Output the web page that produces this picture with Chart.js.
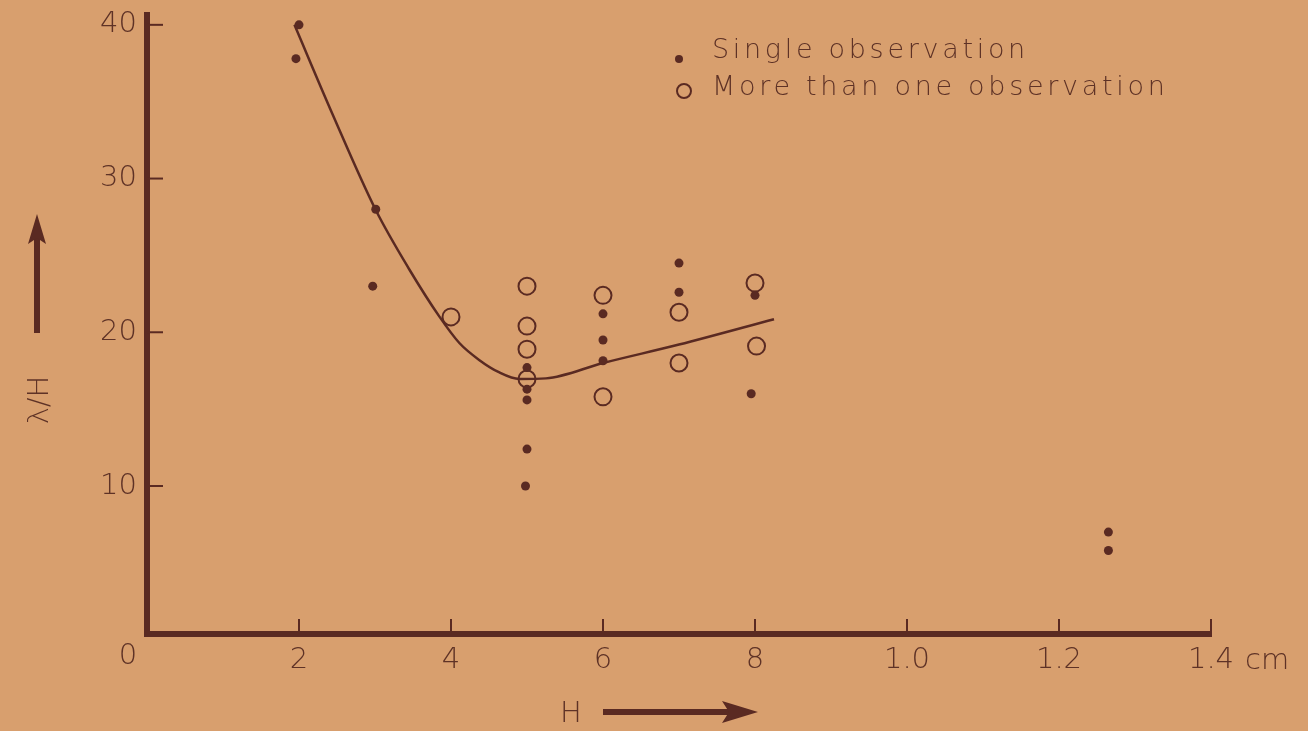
<!DOCTYPE html>
<html>
<head>
<meta charset="utf-8">
<script src="https://cdn.jsdelivr.net/npm/chart.js@4.4.1/dist/chart.umd.min.js"></script>
<style>
  html, body { margin: 0; padding: 0; background: #d89f6e; }
  #wrap { width: 1308px; height: 731px; }
</style>
</head>
<body>
<div id="wrap"><canvas id="waveChart" width="1308" height="731"></canvas></div>
<script>
// 단일 관측 (filled dots)
var singleX = [2, 1.96, 3.01, 2.97, 5, 5, 5, 5, 4.98, 6, 6, 6, 7, 7, 8, 7.95, 12.65, 12.65];
var singleY = [40, 37.8, 28, 23, 17.7, 16.3, 15.6, 12.4, 10, 21.2, 19.5, 18.15, 24.5, 22.6, 22.4, 16, 7.0, 5.8];

// 여러 관측 (open circles)
var multiX = [4, 5, 5, 5, 5, 6, 6, 7, 7, 8, 8.02];
var multiY = [21, 23, 20.4, 18.9, 16.96, 22.4, 15.8, 21.3, 18, 23.2, 19.1];

// 곡선
var curveX = [1.94, 2.44, 3.01, 3.45, 3.85, 4.11, 4.37, 4.63, 4.9, 5.25, 6, 7, 8.25];
var curveY = [40, 34.2, 27.95, 24.1, 21.0, 19.3, 18.2, 17.4, 16.96, 17.0, 18.0, 19.2, 20.85];

var xTicks = [0, 2, 4, 6, 8, 10, 12, 14];
var xTickLabels = ['0', '2', '4', '6', '8', '1.0', '1.2', '1.4'];
var yTicks = [10, 20, 30, 40];
var yTickLabels = ['10', '20', '30', '40'];

var ink = '#5a2a22';
var textInk = '#5e3226';
var fontFamily = "'DejaVu Sans', 'Lato', sans-serif";

function toPoints(xs, ys) {
    return xs.map(function (x, i) { return { x: x, y: ys[i] }; });
}

// 안쪽 눈금, 축 제목, 범례
var decorPlugin = {
    id: 'decor',
    afterDraw: function (chart) {
        var ctx = chart.ctx;
        var xs = chart.scales.x, ys = chart.scales.y;
        var area = chart.chartArea;
        ctx.save();
        ctx.strokeStyle = ink;
        ctx.lineWidth = 2;
        xTicks.forEach(function (v) {
            if (v === 0) return;
            var px = xs.getPixelForValue(v);
            ctx.beginPath();
            ctx.moveTo(px, area.bottom);
            ctx.lineTo(px, area.bottom - 15);
            ctx.stroke();
        });
        yTicks.forEach(function (v) {
            var py = ys.getPixelForValue(v);
            ctx.beginPath();
            ctx.moveTo(area.left, py);
            ctx.lineTo(area.left + 16, py);
            ctx.stroke();
        });

        ctx.fillStyle = textInk;
        ctx.font = '200 29px ' + fontFamily;
        ctx.textBaseline = 'middle';
        ctx.textAlign = 'center';
        ctx.fillText('0', area.left - 19, 656);
        ctx.textAlign = 'left';
        ctx.fillText('cm', xs.getPixelForValue(14) + 34, 661);

        // y 제목
        ctx.save();
        ctx.translate(40, 400);
        ctx.rotate(-Math.PI / 2);
        ctx.textAlign = 'center';
        ctx.fillText('λ/H', 0, 0);
        ctx.restore();

        // x 제목
        ctx.textAlign = 'center';
        ctx.fillText('H', 571, 714);

        // 화살표
        ctx.fillStyle = ink;
        ctx.strokeStyle = ink;
        ctx.lineWidth = 6;
        ctx.beginPath();
        ctx.moveTo(37, 333);
        ctx.lineTo(37, 235);
        ctx.stroke();
        ctx.beginPath();
        ctx.moveTo(37, 214);
        ctx.lineTo(46, 244);
        ctx.lineTo(37, 238);
        ctx.lineTo(28, 244);
        ctx.closePath();
        ctx.fill();

        ctx.beginPath();
        ctx.moveTo(603, 712);
        ctx.lineTo(735, 712);
        ctx.stroke();
        ctx.beginPath();
        ctx.moveTo(758, 712);
        ctx.lineTo(722, 701);
        ctx.lineTo(729, 712);
        ctx.lineTo(722, 723);
        ctx.closePath();
        ctx.fill();

        // 범례
        ctx.fillStyle = ink;
        ctx.beginPath();
        ctx.arc(679, 59, 4, 0, Math.PI * 2);
        ctx.fill();
        ctx.lineWidth = 2;
        ctx.beginPath();
        ctx.arc(684, 91, 7, 0, Math.PI * 2);
        ctx.stroke();
        ctx.fillStyle = textInk;
        ctx.font = '200 27px ' + fontFamily;
        ctx.letterSpacing = '3.7px';
        ctx.textAlign = 'left';
        ctx.fillText('Single observation', 712, 51);
        ctx.fillText('More than one observation', 712, 88);
        ctx.restore();
    }
};

var ctx = document.getElementById('waveChart').getContext('2d');
var waveChart = new Chart(ctx, {
    type: 'scatter',
    data: {
        datasets: [{
            label: 'Single observation',
            data: toPoints(singleX, singleY),
            pointRadius: 4.5,
            pointBackgroundColor: ink,
            pointBorderWidth: 0
        }, {
            label: 'More than one observation',
            data: toPoints(multiX, multiY),
            pointRadius: 8.5,
            pointBackgroundColor: 'rgba(0,0,0,0)',
            pointBorderColor: ink,
            pointBorderWidth: 2
        }, {
            type: 'line',
            label: 'curve',
            data: toPoints(curveX, curveY),
            showLine: true,
            pointRadius: 0,
            borderColor: ink,
            borderWidth: 2.5,
            cubicInterpolationMode: 'monotone',
            fill: false
        }]
    },
    options: {
        responsive: false,
        animation: false,
        layout: { padding: { top: 15, right: 97, left: 0, bottom: 0 } },
        plugins: {
            legend: { display: false },
            tooltip: { enabled: false }
        },
        scales: {
            x: {
                type: 'linear',
                min: 0,
                max: 14,
                afterBuildTicks: function (axis) {
                    axis.ticks = xTicks.map(function (v) { return { value: v }; });
                },
                afterFit: function (scale) {
                    scale.height = 97;
                    scale.paddingLeft = 0;
                    scale.paddingRight = 0;
                },
                grid: { display: false, drawTicks: false },
                border: { display: true, color: ink, width: 6 },
                ticks: {
                    padding: 12,
                    color: textInk,
                    font: { family: fontFamily, size: 29, weight: '200', lineHeight: 1 },
                    maxRotation: 0,
                    autoSkip: false,
                    callback: function (value) {
                        var i = xTicks.indexOf(value);
                        return i > 0 ? xTickLabels[i] : '';
                    }
                }
            },
            y: {
                type: 'linear',
                min: 0.37,
                max: 40.64,
                afterBuildTicks: function (axis) {
                    axis.ticks = yTicks.map(function (v) { return { value: v }; });
                },
                afterFit: function (scale) {
                    scale.width = 147;
                    scale.paddingTop = 0;
                    scale.paddingBottom = 0;
                },
                grid: { display: false, drawTicks: false },
                border: { display: true, color: ink, width: 6 },
                ticks: {
                    padding: 10,
                    color: textInk,
                    font: { family: fontFamily, size: 29, weight: '200', lineHeight: 1 },
                    callback: function (value) {
                        var i = yTicks.indexOf(value);
                        return i >= 0 ? yTickLabels[i] : '';
                    }
                }
            }
        }
    },
    plugins: [decorPlugin]
});
</script>
</body>
</html>
